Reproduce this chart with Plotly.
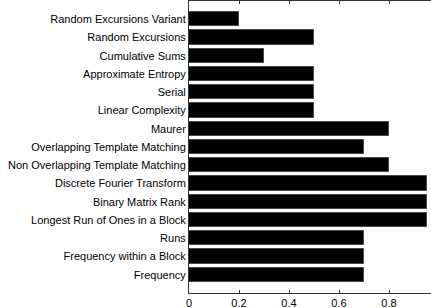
import plotly.graph_objects as go

categories = [
    "Frequency",
    "Frequency within a Block",
    "Runs",
    "Longest Run of Ones in a Block",
    "Binary Matrix Rank",
    "Discrete Fourier Transform",
    "Non Overlapping Template Matching",
    "Overlapping Template Matching",
    "Maurer",
    "Linear Complexity",
    "Serial",
    "Approximate Entropy",
    "Cumulative Sums",
    "Random Excursions",
    "Random Excursions Variant",
]
values = [0.7, 0.7, 0.7, 0.95, 0.95, 0.95, 0.8, 0.7, 0.8, 0.5, 0.5, 0.5, 0.3, 0.5, 0.2]
x_ticks = [0, 0.2, 0.4, 0.6, 0.8]
x_tick_labels = ["0", "0.2", "0.4", "0.6", "0.8"]

positions = list(range(1, len(categories) + 1))

fig = go.Figure(
    go.Bar(
        x=values,
        y=positions,
        orientation="h",
        width=0.78,
        marker=dict(color="black", line=dict(color="#4a4a4a", width=1)),
    )
)

fig.update_layout(
    width=431,
    height=308,
    margin=dict(l=189, r=0, t=1, b=15, autoexpand=False),
    paper_bgcolor="white",
    plot_bgcolor="white",
    showlegend=False,
    font=dict(family="Liberation Sans, Arial, sans-serif", size=11, color="black"),
    bargap=0,
)

fig.update_xaxes(
    range=[0, 0.968],
    tickvals=x_ticks,
    ticktext=x_tick_labels,
    ticks="inside",
    ticklen=3,
    tickcolor="#333",
    showline=True,
    linecolor="#333",
    linewidth=1,
    mirror="ticks",
    showgrid=False,
    zeroline=False,
    automargin=False,
    tickfont=dict(size=11),
)

fig.update_yaxes(
    range=[0, 16],
    tickvals=positions,
    ticktext=categories,
    ticks="",
    showline=True,
    linecolor="#333",
    linewidth=1,
    showgrid=False,
    zeroline=False,
    automargin=False,
    tickfont=dict(size=11),
)

fig.write_html(
    "out.html",
    config={"displayModeBar": False},
    post_script="document.body.style.margin='0';document.body.style.overflow='hidden';",
)
